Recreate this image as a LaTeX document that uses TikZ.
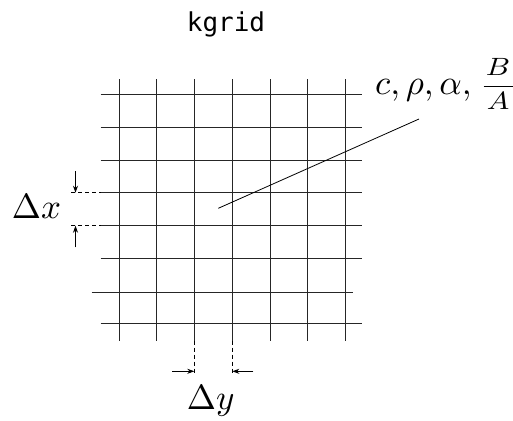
\documentclass[tikz,border=0pt]{standalone}
\usepackage{fontspec}
\newfontfamily\monofont{DejaVu Sans Mono}
\usetikzlibrary{arrows.meta}
\tikzset{
  gridline/.style={line width=0.9pt, draw=black!85},
  dimline/.style={line width=0.8pt, dash pattern=on 4pt off 3pt},
  dimarrow/.style={line width=0.8pt, -{Stealth[length=7pt,width=5pt]}},
  lbl/.style={inner sep=0pt, anchor=base west},
}
\begin{document}
\begin{tikzpicture}[x=1pt,y=-1pt]
\useasboundingbox (0,0) rectangle (513,420);
% title
\node[inner sep=0pt, anchor=base] (title) at (226,32) {\fontsize{26}{30}\selectfont\monofont kgrid};
% vertical grid lines
\foreach \x in {119,156.7,194.3,232.3,270,307.7,345.7}
  \draw[gridline] (\x,79) -- (\x,340.7);
% horizontal grid lines
\foreach \y in {94.3,127.3,160.7,192.7,225.7,258.3,323.7}
  \draw[gridline] (100.7,\y) -- (362.3,\y);
\draw[gridline] (91.7,292.7) -- (353.3,292.7);
% property label
\node[lbl] (props) at (375,94.5) {\scalebox{3.5}{$c, \rho, \alpha,$}\hspace{8.2pt}\raisebox{2pt}{\scalebox{3.0}[2.5]{$\displaystyle\frac{\mkern1.4mu B\mkern1.4mu}{A}$}}};
\coordinate (cell) at (218.3,208.3);
\coordinate (propsfoot) at (419,119);
\draw[line width=0.8pt] (cell) -- (propsfoot);
% Delta x
\coordinate (dxa) at (71,192.7);
\coordinate (dxb) at (100.7,192.7);
\coordinate (dxc) at (71,225.7);
\coordinate (dxd) at (100.7,225.7);
\draw[dimline] (dxa) -- (dxb);
\draw[dimline] (dxc) -- (dxd);
\coordinate (dxtop) at (75.5,171);
\coordinate (dxtoptip) at (75.5,192.7);
\coordinate (dxbot) at (75.5,247.3);
\coordinate (dxbottip) at (75.5,225.7);
\draw[dimarrow] (dxtop) -- (dxtoptip);
\draw[dimarrow] (dxbot) -- (dxbottip);
\node[lbl] (dx) at (11.7,218.3) {\scalebox{3.5}{$\Delta x$}};
% Delta y
\coordinate (dya) at (194.3,340.7);
\coordinate (dyb) at (194.3,375);
\coordinate (dyc) at (232.3,340.7);
\coordinate (dyd) at (232.3,375);
\draw[dimline] (dya) -- (dyb);
\draw[dimline] (dyc) -- (dyd);
\coordinate (dyl) at (172.3,371.3);
\coordinate (dyltip) at (194.3,371.3);
\coordinate (dyr) at (253.3,371.3);
\coordinate (dyrtip) at (232.3,371.3);
\draw[dimarrow] (dyl) -- (dyltip);
\draw[dimarrow] (dyr) -- (dyrtip);
\node[lbl] (dy) at (186.7,409) {\scalebox{3.5}{$\Delta y$}};
\end{tikzpicture}
\end{document}
